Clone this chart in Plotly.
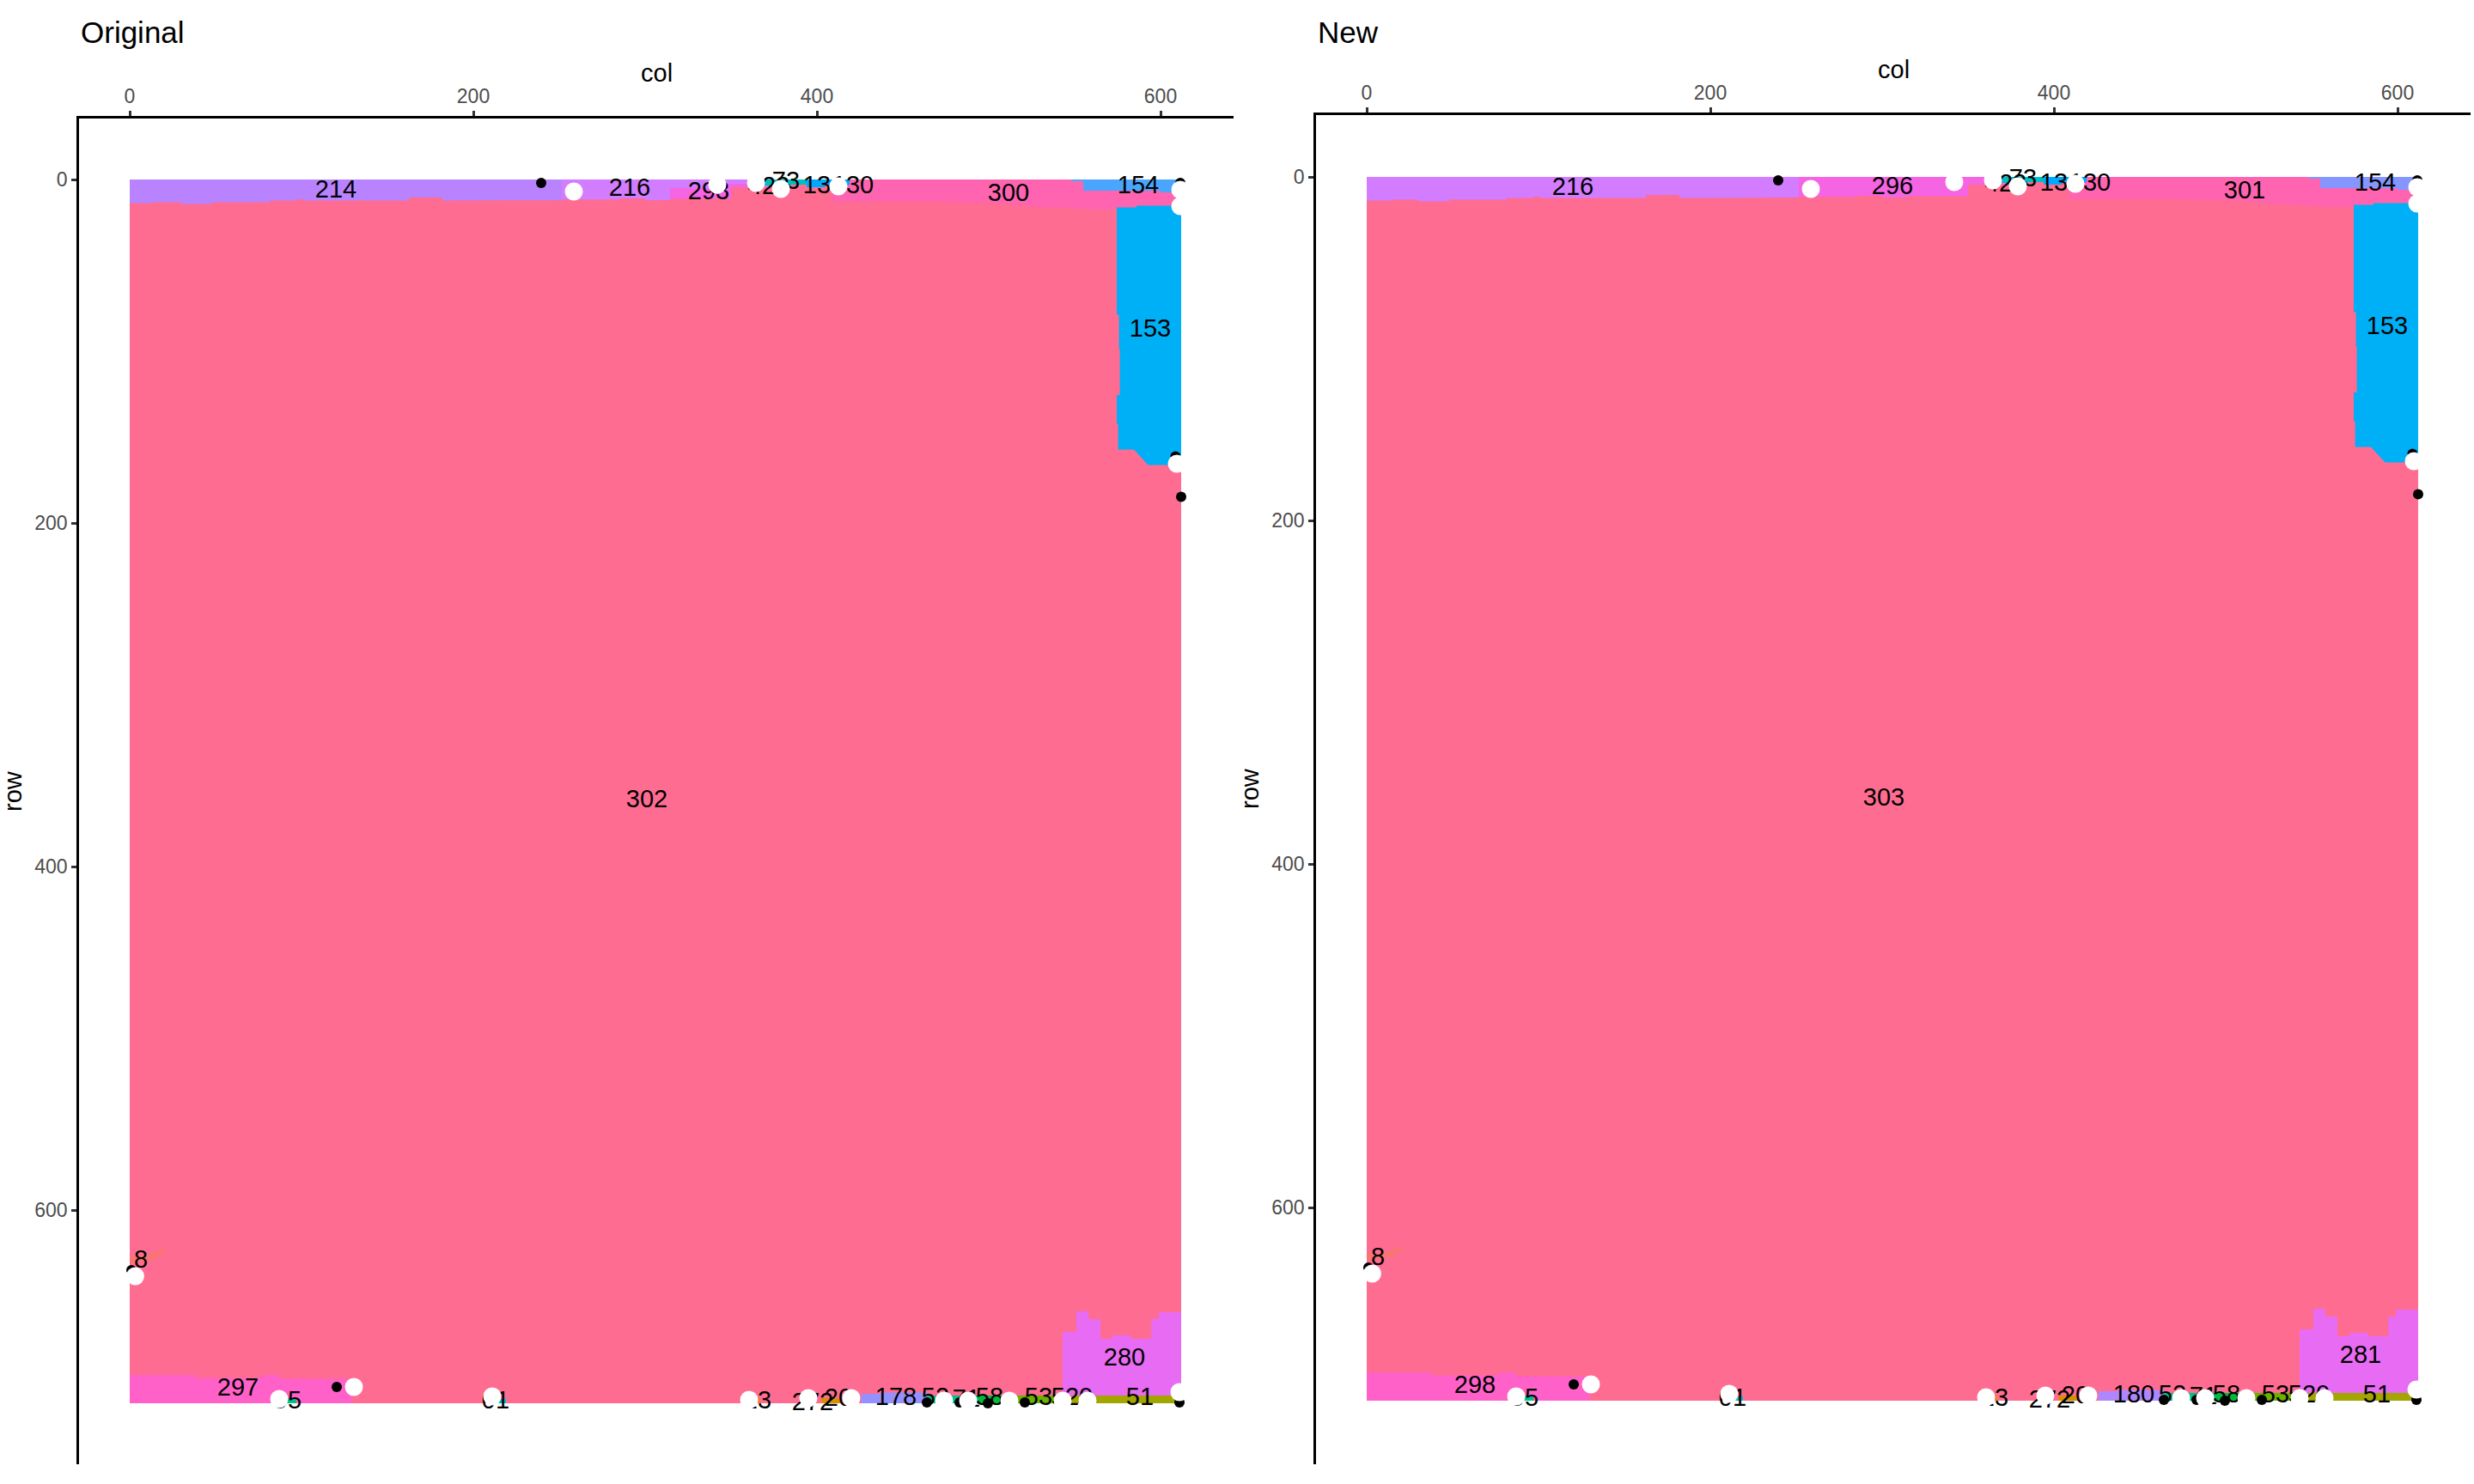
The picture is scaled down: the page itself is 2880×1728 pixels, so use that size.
import plotly.graph_objects as go

# ---------------- data ----------------
PANEL_TITLES = ["Original", "New"]
TICK_VALUES = [0, 200, 400, 600]
TICK_LABELS = ["0", "200", "400", "600"]

# region outlines, image coordinates (col, row)
MAIN_COL = [0, 612, 612, 0]
MAIN_ROW = [0, 0, 712.5, 712.5]

TOPA_COL = [0, 251.5, 251.5, 230, 230, 182, 182, 162.5, 162.5, 101, 101, 97, 97, 81.5, 81.5, 48, 48, 30, 30, 14, 14, 0]
TOPA_ROW = [0, 0, 12, 12, 12.3, 12.3, 10.5, 10.5, 12.3, 12.3, 11.5, 11.5, 12.3, 12.3, 13.3, 13.3, 14.2, 14.2, 13.2, 13.2, 13.8, 13.8]

TOPB_COL = [251.5, 360, 360, 343, 343, 314.5, 314.5, 300, 300, 285, 285, 251.5]
TOPB_ROW = [0, 0, 2.5, 2.5, 5, 5, 12, 12, 11, 11, 11.6, 11.6]

TOPC_COL = [314.5, 343, 343, 360, 360, 372, 372, 350, 350, 314.5]
TOPC_ROW = [5, 5, 2.5, 2.5, 0, 0, 4.5, 4.5, 11.3, 11.3]

TEALTOP_COL = [368, 394, 394, 385, 385, 368]
TEALTOP_ROW = [0, 0, 3, 3, 3.5, 3.5]

HOT_COL = [408.8, 548, 548, 555, 555, 612, 612, 585, 585, 574, 574, 560, 545, 530, 510, 470, 440, 408.8]
HOT_ROW = [0, 0, 1, 1, 6.5, 6.5, 15.3, 15.3, 16.5, 16.5, 17.5, 17.5, 16.5, 16, 14, 13, 13, 13]

BLUE13_COL = [394, 419, 419, 405, 405, 394]
BLUE13_ROW = [0, 0, 3.3, 3.3, 4.5, 4.5]

B154_COL = [548, 612, 612, 600, 600, 555, 555, 548]
B154_ROW = [0, 0, 7.5, 7.5, 6.5, 6.5, 1, 1]

B153_COL = [574.5, 574.5, 575.8, 575.8, 576.3, 576.3, 574.5, 574.5, 575.3, 575.3, 584.5, 592.8, 612, 612, 586, 586]
B153_ROW = [16.3, 78.8, 78.8, 98.8, 98.8, 125.5, 125.5, 142.2, 142.2, 157.2, 157.2, 166.3, 166.3, 15.2, 15.2, 16.3]

ORANGE8_COL = [0, 11.2, 19.5, 22, 12.8, 0]
ORANGE8_ROW = [627.2, 626.3, 623, 623.5, 629.2, 630.5]

R280_COL = [543, 543, 551, 551, 558, 558, 565, 565, 572, 572, 583, 583, 594.6, 594.6, 599, 599, 612, 612]
R280_ROW = [708, 671, 671, 659, 659, 663.5, 663.5, 675, 675, 673, 673, 675, 675, 663.5, 663.5, 659.5, 659.5, 708]

R297_COL = [0, 0, 38, 38, 77, 77, 87, 87, 129.6, 129.6]
R297_ROW = [712.5, 696, 696, 697.7, 697.7, 696, 696, 698.3, 698.3, 712.5]

TEAL95_COL = [88, 97, 97, 88]
TEAL95_ROW = [709.5, 709.5, 712.5, 712.5]
TEAL01_COL = [212, 219, 219, 212]
TEAL01_ROW = [710, 710, 712.5, 712.5]
RED3_COL = [362, 367, 367, 362]
RED3_ROW = [709.5, 709.5, 712.5, 712.5]
OR272_COL = [402.6, 414.2, 414.2, 402.6]
OR272_ROW = [709.5, 709.5, 712.5, 712.5]
R178_COL = [425.8, 437, 437, 464, 464, 425.8]
R178_ROW = [707, 707, 706.3, 706.3, 712.5, 712.5]
TEALB_COL = [464, 494, 494, 464]
TEALB_ROW = [708, 708, 712.5, 712.5]
G58_COL = [494, 509, 509, 494]
G58_ROW = [708, 708, 712.5, 712.5]
G53_COL = [509, 543.6, 543.6, 509]
G53_ROW = [708, 708, 712.5, 712.5]
OL51_COL = [543.6, 612, 612, 543.6]
OL51_ROW = [708, 708, 712.5, 712.5]

REGION_COLS = [MAIN_COL, TOPA_COL, TOPB_COL, TOPC_COL, TEALTOP_COL, HOT_COL, BLUE13_COL, B154_COL,
               B153_COL, ORANGE8_COL, R280_COL, R297_COL, TEAL95_COL, TEAL01_COL, RED3_COL, OR272_COL,
               R178_COL, TEALB_COL, G58_COL, G53_COL, OL51_COL]
REGION_ROWS = [MAIN_ROW, TOPA_ROW, TOPB_ROW, TOPC_ROW, TEALTOP_ROW, HOT_ROW, BLUE13_ROW, B154_ROW,
               B153_ROW, ORANGE8_ROW, R280_ROW, R297_ROW, TEAL95_ROW, TEAL01_ROW, RED3_ROW, OR272_ROW,
               R178_ROW, TEALB_ROW, G58_ROW, G53_ROW, OL51_ROW]

ORIG_COLORS = ["#FF6C91", "#B983FF", "#D27CFF", "#F564E3", "#00BFC4", "#FF64B0", "#00A9FF", "#4AA5FF",
               "#00B0F6", "#F8766D", "#E76BF3", "#FF61C8", "#00C08B", "#00BFC4", "#E9842C", "#D89000",
               "#9590FF", "#00C08B", "#00BA38", "#6BB100", "#A3A500"]
NEW_COLORS = ["#FF6C91", "#D27CFF", "#F564E3", "#F564E3", "#00BFC4", "#FF64B0", "#00A9FF", "#8596FF",
              "#00B0F6", "#F8766D", "#E76BF3", "#FF61C8", "#00C08B", "#00BFC4", "#E9842C", "#D89000",
              "#AE87FF", "#00C08B", "#00BA38", "#6BB100", "#A3A500"]

ORIG_LABEL_TEXT = ["214", "216", "293", "423", "73", "13", "130", "300", "154", "153", "302", "8", "280",
                   "297", "95", "01", "13", "272", "20", "178", "52", "71", "58", "53", "520", "51"]
ORIG_LABEL_COL = [120, 291, 337, 372, 382, 400, 421, 511.5, 587, 594, 301, 6.5, 579,
                  63, 92, 213, 365.5, 397.5, 412.5, 446, 469, 487, 500.5, 529, 548.5, 588]
ORIG_LABEL_ROW = [7, 6, 8, 5, 2, 4.6, 4.6, 9, 4.5, 88, 362, 629.7, 687,
                  704.6, 712, 712, 712, 713, 710.5, 710, 710, 711, 710, 710, 710, 710]

NEW_LABEL_TEXT = ["216", "296", "423", "73", "13", "130", "301", "154", "153", "303", "8", "281",
                  "298", "95", "01", "13", "272", "20", "180", "52", "71", "58", "53", "520", "51"]
NEW_LABEL_COL = [120, 306, 372, 382, 400, 421, 511, 587, 594, 301, 6.5, 578.5,
                 63, 92, 213, 365.5, 397.5, 412.5, 446.5, 469, 487, 500.5, 529, 548.5, 588]
NEW_LABEL_ROW = [7, 6.5, 5, 2, 4.6, 4.6, 8.7, 4.5, 88, 362.6, 629.7, 687,
                 704.5, 712, 712, 712, 713, 710.5, 710, 710, 711, 710, 710, 710, 710]

WHITE_COL = [258.5, 342, 364.5, 379, 412.5, 611.5, 611.5, 609.5, 3.2, 87, 130.5, 211, 360.5,
             395, 420, 474, 488, 512, 543, 557.5, 611]
WHITE_ROW = [7, 3, 2, 5.5, 4, 6, 15.5, 165.5, 638.5, 710, 703, 708.5, 710.5,
             709.5, 709.5, 711, 711, 711, 711, 711, 706]

BLACK_COL = [239.5, 611.5, 608.7, 612, 1, 120.5, 464, 483, 499.5, 521, 611]
BLACK_ROW = [2, 2, 161.3, 184.7, 635, 703, 712, 712, 712.5, 712, 712]

# ---------------- figure ----------------
W, H = 2880, 1728
FONT = "Liberation Sans"

fig = go.Figure()

panels = [
    dict(colors=ORIG_COLORS, ltxt=ORIG_LABEL_TEXT, lcol=ORIG_LABEL_COL, lrow=ORIG_LABEL_ROW, xa="x", ya="y"),
    dict(colors=NEW_COLORS, ltxt=NEW_LABEL_TEXT, lcol=NEW_LABEL_COL, lrow=NEW_LABEL_ROW, xa="x2", ya="y2"),
]

for p in panels:
    for cols, rows, color in zip(REGION_COLS, REGION_ROWS, p["colors"]):
        fig.add_trace(go.Scatter(x=cols, y=rows, mode="lines", fill="toself", fillcolor=color,
                                 line=dict(width=0, color=color), hoverinfo="skip", showlegend=False,
                                 xaxis=p["xa"], yaxis=p["ya"]))
    fig.add_trace(go.Scatter(x=p["lcol"], y=p["lrow"], mode="text", text=p["ltxt"],
                             textposition="middle center",
                             textfont=dict(family=FONT, size=29, color="black"),
                             hoverinfo="skip", showlegend=False, xaxis=p["xa"], yaxis=p["ya"]))
    fig.add_trace(go.Scatter(x=BLACK_COL, y=BLACK_ROW, mode="markers",
                             marker=dict(size=12, color="black", line=dict(width=0)),
                             hoverinfo="skip", showlegend=False, xaxis=p["xa"], yaxis=p["ya"]))
    fig.add_trace(go.Scatter(x=WHITE_COL, y=WHITE_ROW, mode="markers",
                             marker=dict(size=21, color="white", line=dict(width=0)),
                             hoverinfo="skip", showlegend=False, xaxis=p["xa"], yaxis=p["ya"]))

axis_common = dict(showgrid=False, zeroline=False, showline=True, linecolor="black", linewidth=2.5,
                   ticks="outside", ticklen=6, tickwidth=2.5, tickcolor="#333333",
                   tickvals=TICK_VALUES, ticktext=TICK_LABELS,
                   tickfont=dict(family=FONT, size=23, color="#4D4D4D"))

fig.update_layout(
    width=W, height=H, margin=dict(l=0, r=0, t=0, b=0),
    paper_bgcolor="white", plot_bgcolor="white",
    xaxis=dict(domain=[92 / W, 1436 / W], range=[-29.5, 642.5], side="top", anchor="y", **axis_common),
    yaxis=dict(domain=[1 - 1705 / H, 1 - 138 / H], range=[748, -35.5], anchor="x", **axis_common),
    xaxis2=dict(domain=[1532 / W, 2876 / W], range=[-29.5, 642.5], side="top", anchor="y2", **axis_common),
    yaxis2=dict(domain=[1 - 1705 / H, 1 - 134 / H], range=[749.5, -36], anchor="x2", **axis_common),
)

ann = []
for title, xl in zip(PANEL_TITLES, [92, 1532]):
    ann.append(dict(text=title, x=xl / W, y=1 - 37 / H, xref="paper", yref="paper",
                    xanchor="left", yanchor="middle", showarrow=False,
                    font=dict(family=FONT, size=35, color="black")))
for xc, yc in [(764, 85), (2204, 81)]:
    ann.append(dict(text="col", x=xc / W, y=1 - yc / H, xref="paper", yref="paper",
                    xanchor="center", yanchor="middle", showarrow=False,
                    font=dict(family=FONT, size=29, color="black")))
for xc, yc in [(15, 921), (1455, 918)]:
    ann.append(dict(text="row", x=xc / W, y=1 - yc / H, xref="paper", yref="paper",
                    xanchor="center", yanchor="middle", showarrow=False, textangle=-90,
                    font=dict(family=FONT, size=29, color="black")))
fig.update_layout(annotations=ann)

fig.write_html("out.html")
